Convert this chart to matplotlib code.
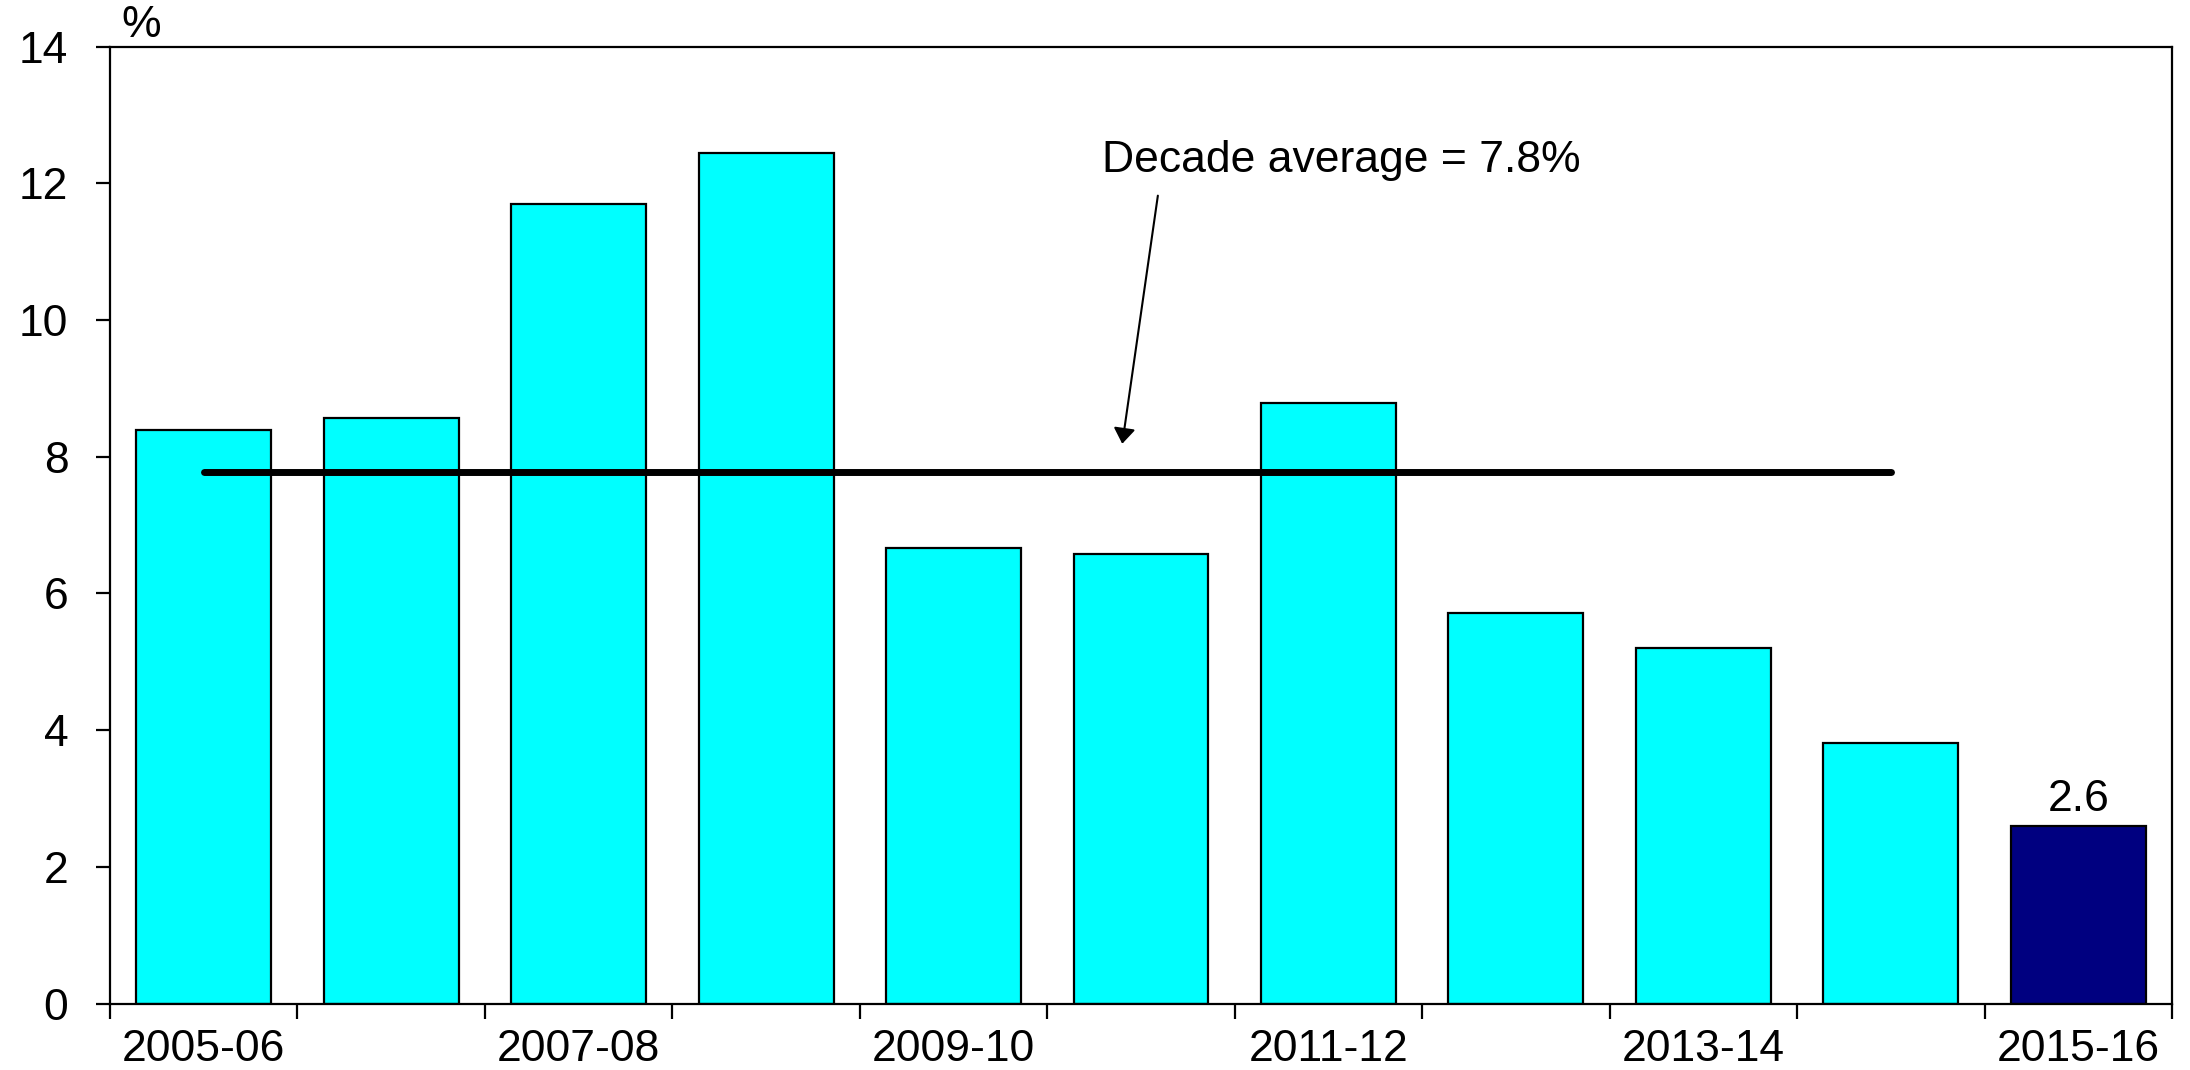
import numpy as np
import matplotlib
matplotlib.use("Agg")
import matplotlib.pyplot as plt

# Annual growth rates, %
years = ["2005-06", "2006-07", "2007-08", "2008-09", "2009-10", "2010-11",
         "2011-12", "2012-13", "2013-14", "2014-15", "2015-16"]
growth = [8.39, 8.57, 11.70, 12.44, 6.67, 6.57, 8.78, 5.71, 5.20, 3.81, 2.6]
yticks = [0, 2, 4, 6, 8, 10, 12, 14]

plt.rcParams["font.family"] = ["Liberation Sans", "DejaVu Sans"]
FS = 32

fig = plt.figure(figsize=(21.9, 10.7), dpi=100)
ax = fig.add_axes([0.0502, 0.0621, 0.9416, 0.8943])

x = np.arange(len(years))
colors = ["#00FFFF"] * (len(years) - 1) + ["#000080"]
ax.bar(x, growth, width=0.72, color=colors, edgecolor="black", linewidth=1.6, zorder=2)

# Average over the ten years before the latest one
decade_average = float(np.mean(growth[:-1]))
ax.plot([x[0], x[-2]], [decade_average, decade_average], color="black",
        linewidth=5, solid_capstyle="round", zorder=3)

ax.text(6.07, 12.34, f"Decade average = {decade_average:.1f}%", fontsize=FS,
        ha="center", va="center")
ax.annotate("", xy=(4.90, 8.19), xytext=(5.09, 11.82),
            arrowprops=dict(arrowstyle="-|>,head_length=0.47,head_width=0.33",
                            mutation_scale=20, color="black", linewidth=1.5,
                            shrinkA=0, shrinkB=0))

# Value label for the latest year
ax.annotate(f"{growth[-1]}", xy=(x[-1], growth[-1]), xytext=(0, 4),
            textcoords="offset points", ha="center", va="bottom", fontsize=FS)

ax.set_xlim(-0.5, len(years) - 0.5)
ax.set_ylim(0, 14)
ax.set_yticks(yticks)
ax.set_yticklabels([str(v) for v in yticks])

# Tick marks at category boundaries, labels under every second year
ax.set_xticks(np.arange(-0.5, len(years), 1.0))
ax.set_xticklabels([])
ax.set_xticks(x[::2], minor=True)
ax.set_xticklabels([years[i] for i in x[::2]], minor=True)

ax.tick_params(axis="x", which="major", direction="out", length=11, width=1.6)
ax.tick_params(axis="x", which="minor", length=0, pad=18, labelsize=FS)
ax.tick_params(axis="y", direction="out", length=10, width=1.6, pad=20, labelsize=FS)

for s in ax.spines.values():
    s.set_linewidth(1.6)

ax.text(0.015, 1.022, "%", transform=ax.transAxes, fontsize=FS, ha="center", va="center")

fig.savefig("out.png", dpi=100)
